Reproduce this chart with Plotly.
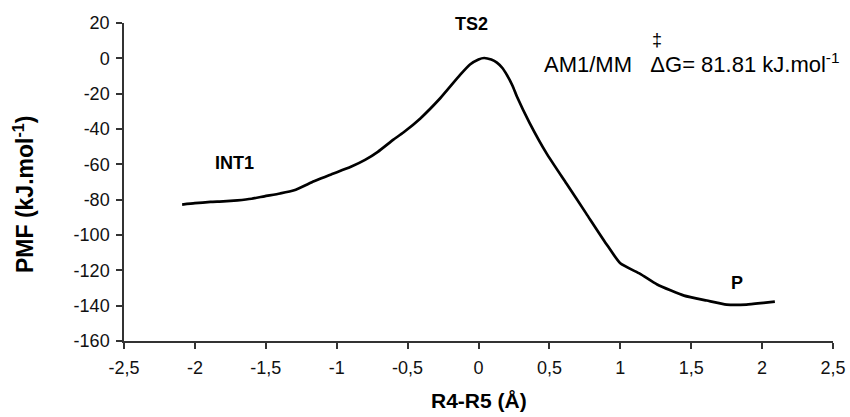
import plotly.graph_objects as go

# Reaction coordinate (Å) and PMF (kJ/mol)
r45 = [-2.09, -2.00, -1.89, -1.80, -1.70, -1.60, -1.51, -1.40, -1.30, -1.16,
       -1.05, -0.90, -0.80, -0.71, -0.60, -0.53, -0.41, -0.27, -0.13, -0.06,
       0.00, 0.04, 0.09, 0.13, 0.17, 0.20, 0.24, 0.27, 0.36, 0.48,
       0.62, 0.76, 0.90, 1.00, 1.14, 1.26, 1.45, 1.61, 1.75, 1.89,
       2.01, 2.09]
pmf = [-82.8, -82.0, -81.3, -81.0, -80.4, -79.5, -78.1, -76.5, -74.7, -69.6,
       -66.0, -61.4, -57.5, -52.9, -46.0, -42.0, -34.0, -22.6, -9.4, -3.5,
       -0.6, 0.2, -0.7, -2.4, -5.6, -9.4, -15.5, -21.5, -36.5, -53.8,
       -70.9, -87.9, -104.9, -116.0, -122.0, -128.0, -134.3, -137.1, -139.4, -139.4,
       -138.4, -137.7]

x_tickvals = [-2.5, -2, -1.5, -1, -0.5, 0, 0.5, 1, 1.5, 2, 2.5]
x_ticktext = ["-2,5", "-2", "-1,5", "-1", "-0,5", "0", "0,5", "1", "1,5", "2", "2,5"]
y_tickvals = [20, 0, -20, -40, -60, -80, -100, -120, -140, -160]
y_ticktext = ["20", "0", "-20", "-40", "-60", "-80", "-100", "-120", "-140", "-160"]

TICKFONT = dict(family="Liberation Sans Narrow, Arial Narrow, Liberation Sans, sans-serif", size=18, color="#111")
SANS = "Liberation Sans, Arial, sans-serif"

fig = go.Figure()
fig.add_trace(go.Scatter(x=r45, y=pmf, mode="lines",
                         line=dict(color="black", width=2.7, shape="spline", smoothing=0.5),
                         showlegend=False, hoverinfo="skip", cliponaxis=False))

# point labels
fig.add_annotation(x=-1.72, y=-59.2, text="<b>INT1</b>", showarrow=False,
                   font=dict(family=SANS, size=18, color="black"))
fig.add_annotation(x=-0.05, y=1.035, yref="paper", text="<b>TS2</b>", showarrow=False,
                   font=dict(family=SANS, size=18, color="black"))
fig.add_annotation(x=1.82, y=-127.3, text="<b>P</b>", showarrow=False,
                   font=dict(family=SANS, size=18, color="black"))

fig.add_annotation(x=0.448, y=-2.6, xanchor="left",
                   text="AM1/MM\u00a0\u00a0\u00a0\u0394G= 81.81 kJ.mol<sup>-1</sup>",
                   showarrow=False, font=dict(family=SANS, size=22, color="black"))
fig.add_annotation(x=1.26, y=10.5, text="\u2021", showarrow=False,
                   font=dict(family=SANS, size=18, color="black"))

# axis titles
fig.add_annotation(xref="paper", yref="paper", x=0.5, y=-0.23,
                   text="<b>R4-R5 (Å)</b>", showarrow=False,
                   font=dict(family=SANS, size=21, color="black"))
fig.add_annotation(xref="paper", yref="paper", x=-0.166, y=0.46, textangle=-90,
                   text="<b>PMF (kJ.mol<sup>-1</sup>)</b>", showarrow=False,
                   font=dict(family=SANS, size=23, color="black"))

axis_common = dict(showgrid=False, zeroline=False, showline=True,
                   linecolor="#333", linewidth=1.5, ticks="outside",
                   ticklen=6, tickwidth=1.5, tickcolor="#333",
                   tickfont=TICKFONT, mirror=False, automargin=False)

fig.update_xaxes(range=[-2.5, 2.5], tickmode="array", tickvals=x_tickvals,
                 ticktext=x_ticktext, ticklabelstandoff=4, **axis_common)
fig.update_yaxes(range=[-160, 20], tickmode="array", tickvals=y_tickvals,
                 ticktext=y_ticktext, ticklabelstandoff=3, **axis_common)

fig.update_layout(width=850, height=417,
                  margin=dict(l=124, r=17, t=23, b=76),
                  plot_bgcolor="white", paper_bgcolor="white")

fig.write_html("out.html")
